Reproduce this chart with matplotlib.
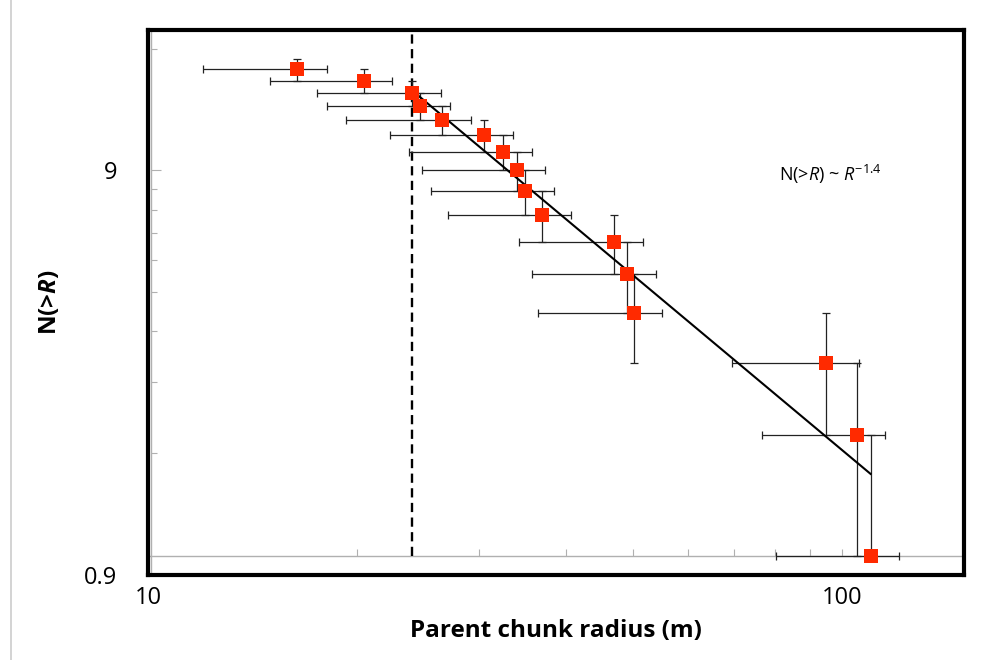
import numpy as np
import matplotlib
matplotlib.use("Agg")
import matplotlib.pyplot as plt
from matplotlib.lines import Line2D

plt.rcParams['font.family'] = ['Open Sans', 'DejaVu Sans']
plt.rcParams['mathtext.fontset'] = 'custom'
plt.rcParams['mathtext.rm'] = 'Open Sans'
plt.rcParams['mathtext.it'] = 'Open Sans:italic'
plt.rcParams['mathtext.bf'] = 'Open Sans:bold'
plt.rcParams['mathtext.bfit'] = 'Open Sans:italic:bold'

# ---- data ----
N_count = [16, 15, 14, 13, 12, 11, 10, 9, 8, 7, 6, 5, 4, 3, 2, 1]
radius = [16.4, 20.5, 24.0, 24.7, 26.5, 30.5, 32.5, 34.0, 35.0, 37.0,
          47.0, 49.0, 50.1, 94.9, 105.0, 110.0]
radius_low = [12.0, 15.0, 17.5, 18.1, 19.3, 22.3, 23.8, 24.8, 25.6, 27.1,
              34.3, 35.8, 36.5, 69.4, 76.7, 80.4]
radius_high = [18.1, 22.5, 26.4, 27.2, 29.2, 33.6, 35.8, 37.4, 38.5, 40.7,
               51.7, 54.0, 55.0, 106.0, 115.5, 121.0]
N_err_low = [1, 1, 1, 1, 1, 1, 1, 1, 1, 1, 1, 1, 1, 1, 1, 0]
N_err_high = [1, 1, 1, 1, 1, 1, 1, 1, 1, 1, 1, 1, 1, 1, 1, 1]

cutoff_R = 24.0
fit_R = [24.0, 110.0]
fit_N = [14.2, 1.6]

x_ticks = [10, 100]
y_ticks = [0.9, 9]
x_minor = [20, 30, 40, 50, 60, 70, 80, 90, 100]
y_minor = [1.8, 2.7, 3.6, 4.5, 5.4, 6.3, 7.2, 8.1, 18]
xlim = (10, 150)
ylim = (0.9, 20)

# ---- figure ----
fig = plt.figure(figsize=(9.92, 6.60), dpi=100)
ax = fig.add_axes([148/992, 1 - 575/660, (964-148)/992, (575-30)/660])
ax.set_xscale('log')
ax.set_yscale('log')
ax.set_xlim(*xlim)
ax.set_ylim(*ylim)

xerr = [np.array(radius) - np.array(radius_low), np.array(radius_high) - np.array(radius)]
yerr = [N_err_low, N_err_high]
ax.errorbar(radius, N_count, xerr=xerr, yerr=yerr, fmt='none', ecolor='#222222',
            elinewidth=0.9, capsize=3.2, capthick=0.9, zorder=3)
ax.plot(radius, N_count, 's', color='#ff2a00', markersize=10, markeredgewidth=0,
        zorder=5)

ax.plot(fit_R, fit_N, color='black', lw=1.5, zorder=4)
ax.vlines(cutoff_R, 1, ylim[1], colors='black', lw=1.7,
          linestyles=(0, (3.9, 2.3)), zorder=2)

ax.annotate(r'N(>$\mathit{R}$) ~ $\mathit{R}^{-1.4}$', xy=(0.836, 0.735),
            xycoords='axes fraction', ha='center', va='center', fontsize=13)

# frame
for s in ax.spines.values():
    s.set_linewidth(3.0)
    s.set_color('black')

ax.set_xticks(x_ticks, labels=[str(v) for v in x_ticks])
ax.set_yticks(y_ticks, labels=[str(v) for v in y_ticks])
ax.minorticks_off()
ax.tick_params(axis='both', length=0, labelsize=17)
ax.tick_params(axis='x', pad=8)
ax.tick_params(axis='y', pad=22)

# Excel-like gray axes: x axis crossing at N = 1, y axis at left edge
loc_y1 = np.log(1 / ylim[0]) / np.log(ylim[1] / ylim[0])
secx = ax.secondary_xaxis(loc_y1)
secx.spines['bottom'].set_color('#b0b0b0')
secx.spines['bottom'].set_linewidth(1.0)
secx.set_xticks([100])
secx.set_xticks(x_minor, minor=True)
secx.tick_params(which='both', direction='in', color='#b0b0b0', length=5,
                 width=0.8, labelbottom=False)

secy = ax.secondary_yaxis(0.004)
secy.spines['left'].set_color('#b0b0b0')
secy.spines['left'].set_linewidth(1.0)
secy.set_yticks([9])
secy.set_yticks(y_minor, minor=True)
secy.tick_params(which='major', direction='in', color='#b0b0b0', length=7,
                 width=0.8, labelleft=False)
secy.tick_params(which='minor', direction='in', color='#b0b0b0', length=4,
                 width=0.8, labelleft=False)

ax.set_xlabel('Parent chunk radius (m)', fontsize=17.5, fontweight='bold')
ax.xaxis.set_label_coords((556 - 148) / 816, -(619 - 575) / 545)
ax.set_ylabel(r'N(>$\mathbfit{R}$)', fontsize=17.5, fontweight='bold')
ax.yaxis.set_label_coords(-(148 - 62) / 816, 0.5)

fig.add_artist(Line2D([11/992, 11/992], [0, 1], color='#cccccc', lw=1.2))

fig.savefig('out.png', dpi=100)
